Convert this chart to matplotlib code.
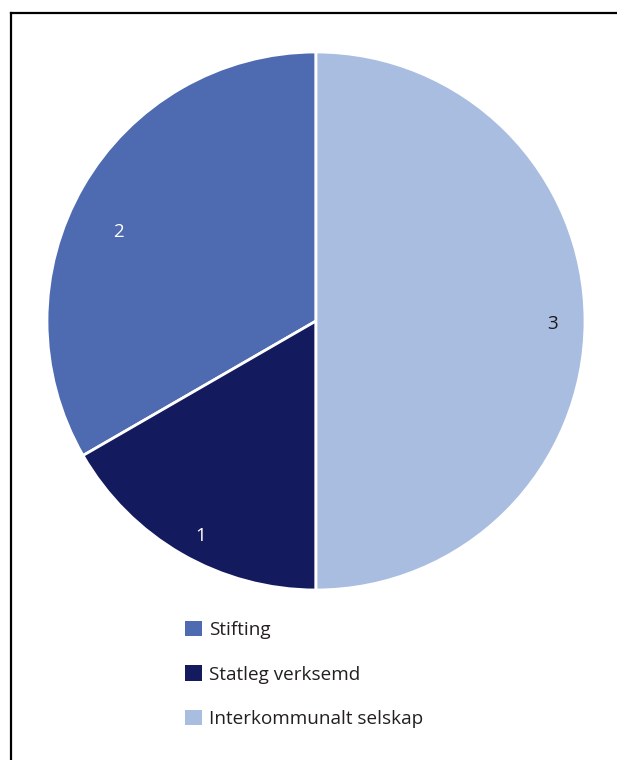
import matplotlib
matplotlib.use("Agg")
import matplotlib.pyplot as plt
from matplotlib.lines import Line2D
import numpy as np

plt.rcParams['font.family'] = ['Open Sans', 'DejaVu Sans']

categories = ["Stifting", "Statleg verksemd", "Interkommunalt selskap"]
values = [2, 1, 3]
colors = ["#4E6AB0", "#141A5E", "#A8BDE0"]
label_colors = ["white", "white", "#1a1a1a"]
# label placement (radius, angle offset in degrees)
label_r = [0.81, 0.895, 0.88]
label_dang = [5, 1.5, 0]

W, H = 617, 760
fig = plt.figure(figsize=(W / 100, H / 100), dpi=100)

cx, cy, R = 316, 321, 269
ax = fig.add_axes([(cx - R) / W, 1 - (cy + R) / H, 2 * R / W, 2 * R / H])
wedges, _ = ax.pie(values, colors=colors, startangle=90, counterclock=True,
                   radius=1, wedgeprops=dict(edgecolor="white", linewidth=2))
ax.set_xlim(-1, 1)
ax.set_ylim(-1, 1)
ax.set_aspect("equal")
ax.axis("off")

for w, v, c, r, da in zip(wedges, values, label_colors, label_r, label_dang):
    ang = np.deg2rad((w.theta1 + w.theta2) / 2 + da)
    ax.text(r * np.cos(ang), r * np.sin(ang) - 0.012, str(v), ha="center",
            va="center", fontsize=13.5, color=c)

leg = fig.legend(wedges, categories, loc="upper left",
                 bbox_to_anchor=(185 / W, 1 - 621 / H), frameon=False,
                 fontsize=13.6, handlelength=0.88, handleheight=0.88,
                 handletextpad=0.4, labelspacing=1.38, borderpad=0,
                 borderaxespad=0, labelcolor="#231f20")
for h in leg.legend_handles:
    h.set_edgecolor("none")
    h.set_linewidth(0)

# border
fig.add_artist(Line2D([11 / W, 11 / W], [0, 1 - 13 / H], color="black", lw=1.6,
                      transform=fig.transFigure, solid_capstyle="projecting"))
fig.add_artist(Line2D([11 / W, 1], [1 - 13 / H, 1 - 13 / H], color="black", lw=1.6,
                      transform=fig.transFigure, solid_capstyle="projecting"))

fig.savefig("out.png", dpi=100, facecolor="white")
